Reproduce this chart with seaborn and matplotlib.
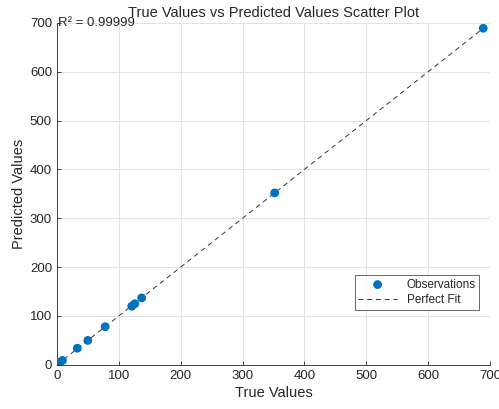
import numpy as np
import pandas as pd
import seaborn as sns
import matplotlib.pyplot as plt

# valeurs
true_vals = [0, 2, 5, 9, 33, 50, 78, 121, 126, 137, 352, 689]
pred_vals = [0, 2, 5, 9, 34, 50, 78, 120, 125, 137, 352, 689]
fit_line = [0, 689]
r2_text = "R\u00b2 = 0.99999"

df = pd.DataFrame({"True": true_vals, "Pred": pred_vals})
fit = pd.DataFrame({"x": fit_line, "y": fit_line})

sns.set_style("ticks")
plt.rcParams["font.family"] = ["Liberation Sans", "DejaVu Sans"]

fig = plt.figure(figsize=(4.99, 4.09), dpi=100)
ax = fig.add_axes([0.114, 0.108, 0.868, 0.836])

sns.scatterplot(data=df, x="True", y="Pred", color="#0072BD", s=40,
                edgecolor="none", label="Observations", ax=ax, zorder=3)
sns.lineplot(data=fit, x="x", y="y", color="#333333", linestyle=(0, (5, 4)),
             linewidth=0.7, label="Perfect Fit", ax=ax, zorder=2)

ax.set_xlim(0, 700)
ax.set_ylim(0, 700)
ax.set_xticks(range(0, 701, 100))
ax.set_yticks(range(0, 701, 100))
ax.grid(True, color="#e3e3e3", linewidth=0.8)
ax.set_axisbelow(True)
ax.tick_params(direction="in", length=3, labelsize=9.5, colors="#262626", width=0.6)
for s in ["top", "right"]:
    ax.spines[s].set_visible(False)
for s in ["left", "bottom"]:
    ax.spines[s].set_color("#262626")
    ax.spines[s].set_linewidth(0.6)

ax.set_xlabel("True Values", fontsize=10.5, color="#262626", labelpad=3)
ax.set_ylabel("Predicted Values", fontsize=10.5, color="#262626", labelpad=3)
ax.set_title("True Values vs Predicted Values Scatter Plot", fontsize=10.5, pad=4)
ax.text(2, 700, r2_text, fontsize=9.5, va="center", ha="left")

leg = ax.legend(loc="lower right", bbox_to_anchor=(0.975, 0.161), fontsize=8.5,
                frameon=True, fancybox=False, edgecolor="#262626",
                handlelength=3.3, borderpad=0.3, labelspacing=0.3, borderaxespad=0)
leg.get_frame().set_linewidth(0.6)

fig.savefig("out.png", dpi=100)
